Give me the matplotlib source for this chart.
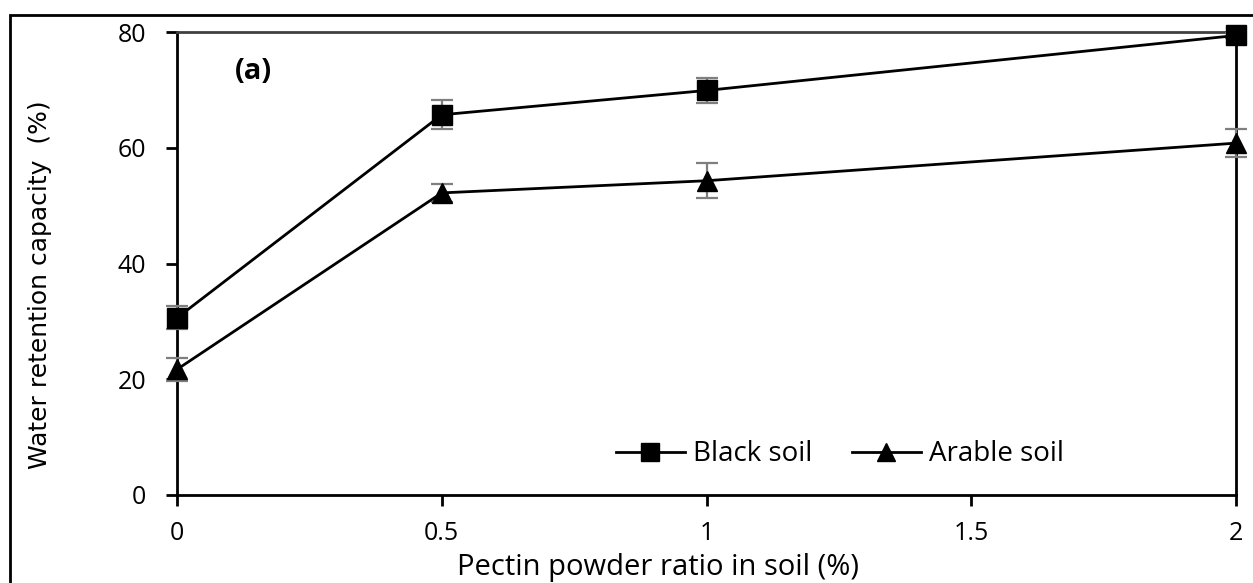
import matplotlib
matplotlib.use("Agg")
import matplotlib.pyplot as plt
from matplotlib.patches import Rectangle

# pectin ratio (%) and water retention capacity (%)
ratio = [0, 0.5, 1, 2]
black_soil = [30.6, 65.7, 69.9, 79.4]
black_err = [2.0, 2.5, 2.2, 0.5]
arable_soil = [21.7, 52.2, 54.3, 60.8]
arable_err = [2.0, 1.5, 3.0, 2.45]

x_ticks = [0, 0.5, 1, 1.5, 2]
x_tick_labels = ["0", "0.5", "1", "1.5", "2"]
y_ticks = [0, 20, 40, 60, 80]

plt.rcParams['font.family'] = ['Open Sans', 'DejaVu Sans']

fig = plt.figure(figsize=(12.53, 5.83), dpi=100)
ax = fig.add_axes([177 / 1253, 1 - 495 / 583, (1236 - 177) / 1253, (495 - 32) / 583])

# outer frame (only left and top edges are inside the picture)
top = 1 - 15 / 583
fig.patches.append(Rectangle((10 / 1253, -0.5), 2.0, top + 0.5,
                             transform=fig.transFigure, fill=False,
                             edgecolor="black", linewidth=2, clip_on=False))

err_style = dict(ecolor="#7f7f7f", elinewidth=1.6, capsize=8, capthick=1.6)
series = [
    (black_soil, black_err, "s", 15, "Black soil"),
    (arable_soil, arable_err, "^", 15, "Arable soil"),
]
for vals, errs, mk, ms, name in series:
    cont = ax.errorbar(ratio, vals, yerr=errs, color="black", marker=mk,
                       markersize=ms, linewidth=2, label=name, zorder=3, **err_style)
    for art in cont.get_children():
        art.set_clip_on(False)

ax.set_xlim(0, 2)
ax.set_ylim(0, 80)
ax.set_xticks(x_ticks)
ax.set_xticklabels(x_tick_labels)
ax.set_yticks(y_ticks)
ax.tick_params(axis="both", direction="out", length=8, width=2, labelsize=18)
ax.tick_params(axis="x", pad=11)
ax.tick_params(axis="y", pad=14)
for sp in ax.spines.values():
    sp.set_linewidth(2)
ax.spines["top"].set_color("#404040")

ax.set_xlabel("Pectin powder ratio in soil (%)", fontsize=21)
ax.xaxis.set_label_coords(0.454, -0.125)
ax.set_ylabel("Water retention capacity  (%)", fontsize=18,
              family=["Liberation Sans Narrow", "DejaVu Sans"])
ax.yaxis.set_label_coords(-0.118, 0.455)

ax.text(0.055, 0.915, "(a)", transform=ax.transAxes, fontsize=21,
        fontweight="bold", va="center")

handles, labels = ax.get_legend_handles_labels()
handles = [h[0] for h in handles]
ax.legend(handles, labels, loc="center", bbox_to_anchor=(0.626, 0.088),
          ncol=2, frameon=False, fontsize=20, handlelength=2.5,
          handletextpad=0.3, columnspacing=1.4, markerscale=0.9)

fig.savefig("out.png", dpi=100)
